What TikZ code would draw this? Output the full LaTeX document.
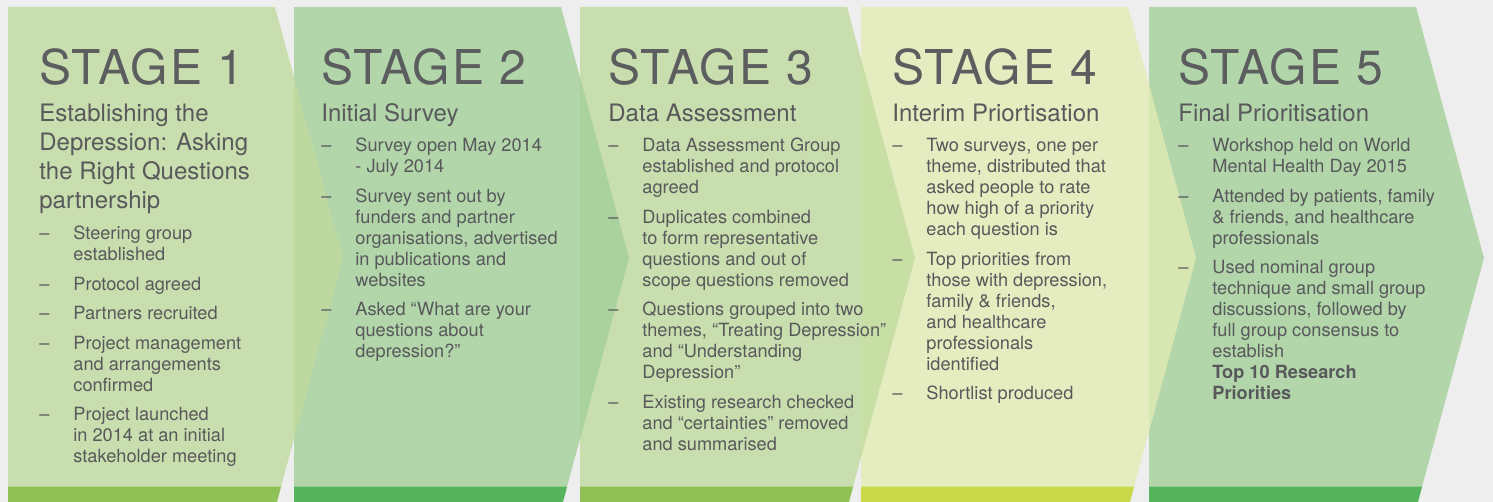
\documentclass[tikz,border=0pt]{standalone}
\usepackage{fontspec}
\setmainfont{TeX Gyre Heros}
\newfontfamily\stagefont{TeX Gyre Heros}[LetterSpace=4.0]
\definecolor{bgGray}{HTML}{EEEEEE}
\definecolor{panelA}{RGB}{192,219,158}
\definecolor{panelB}{RGB}{163,207,154}
\definecolor{panelC}{RGB}{226,236,181}
\definecolor{barA}{RGB}{143,193,86}
\definecolor{barB}{RGB}{85,180,92}
\definecolor{barC}{RGB}{200,218,74}
\definecolor{txtGray}{RGB}{88,89,91}
\definecolor{titleGray}{RGB}{92,93,95}
\begin{document}
\begin{tikzpicture}[x=0.5pt,y=0.5pt,yscale=-1,xscale=1,
  stagetitle/.style={anchor=base west,inner sep=0pt,font=\stagefont\fontsize{24}{28}\selectfont,text=titleGray},
  stagehead/.style={anchor=base west,inner sep=0pt,font=\fontsize{12}{14.5}\selectfont,text=txtGray},
  stageitems/.style={anchor=base west,inner sep=0pt,font=\fontsize{9.1}{10.5}\selectfont,text=txtGray},
  chev/.style={fill opacity=0.8}]
%set diagram left start at 0, and has height of 502
\clip (0,0) rectangle (1493,502);
\fill [bgGray] (0,0) rectangle (1493,502);

%Shape: Chevron [stage 5]
\fill [panelB, chev] (1149,7) -- (1416,7) -- (1484,258) -- (1416,509) -- (1149,509) -- cycle ;
%Shape: Chevron [stage 4]
\fill [panelC, chev] (861,7) -- (1128,7) -- (1196,258) -- (1128,509) -- (861,509) -- cycle ;
%Shape: Chevron [stage 3]
\fill [panelA, chev] (580,7) -- (847,7) -- (915,258) -- (847,509) -- (580,509) -- cycle ;
%Shape: Chevron [stage 2]
\fill [panelB, chev] (294,7) -- (561,7) -- (629,258) -- (561,509) -- (294,509) -- cycle ;
%Shape: Chevron [stage 1]
\fill [panelA, chev] (8,7) -- (275,7) -- (343,258) -- (275,509) -- (8,509) -- cycle ;

%Shape: Bottom bars
\fill [barA] (8,486.5) -- (281.1,486.5) -- (275,509) -- (8,509) -- cycle ;
\fill [barB] (294,486.5) -- (567.1,486.5) -- (561,509) -- (294,509) -- cycle ;
\fill [barA] (580,486.5) -- (853.1,486.5) -- (847,509) -- (580,509) -- cycle ;
\fill [barC] (861,486.5) -- (1134.1,486.5) -- (1128,509) -- (861,509) -- cycle ;
\fill [barB] (1149,486.5) -- (1422.1,486.5) -- (1416,509) -- (1149,509) -- cycle ;

% Text Node
\draw (39,85) node (title1) [stagetitle] {STAGE 1};
% Text Node
\draw (39,122) node (head1) [stagehead] {\begin{tabular}[t]{@{}l@{}}Establishing the\\Depression: Asking\\the Right Questions\\partnership\end{tabular}};
% Text Node
\draw (39,240) node (list1) [stageitems] {\begin{tabular}[t]{@{}p{17pt}@{}l@{}}
\textendash & Steering group\\ & established\\[4.25pt]
\textendash & Protocol agreed\\[4.25pt]
\textendash & Partners recruited\\[4.25pt]
\textendash & Project management\\ & and arrangements\\ & confirmed\\[4.25pt]
\textendash & Project launched\\ & in 2014 at an initial\\ & stakeholder meeting
\end{tabular}};

% Text Node
\draw (321,85) node (title2) [stagetitle] {STAGE 2};
% Text Node
\draw (321,122) node (head2) [stagehead] {Initial Survey};
% Text Node
\draw (321,152) node (list2) [stageitems] {\begin{tabular}[t]{@{}p{17pt}@{}l@{}}
\textendash & Survey open May 2014\\ & - July 2014\\[4.25pt]
\textendash & Survey sent out by\\ & funders and partner\\ & organisations, advertised\\ & in publications and\\ & websites\\[4.25pt]
\textendash & Asked “What are your\\ & questions about\\ & depression?”
\end{tabular}};

% Text Node
\draw (608,85) node (title3) [stagetitle] {STAGE 3};
% Text Node
\draw (608,122) node (head3) [stagehead] {Data Assessment};
% Text Node
\draw (608,152) node (list3) [stageitems] {\begin{tabular}[t]{@{}p{17pt}@{}l@{}}
\textendash & Data Assessment Group\\ & established and protocol\\ & agreed\\[4.25pt]
\textendash & Duplicates combined\\ & to form representative\\ & questions and out of\\ & scope questions removed\\[4.25pt]
\textendash & Questions grouped into two\\ & themes, “Treating Depression”\\ & and “Understanding\\ & Depression”\\[4.25pt]
\textendash & Existing research checked\\ & and “certainties” removed\\ & and summarised
\end{tabular}};

% Text Node
\draw (892,85) node (title4) [stagetitle] {STAGE 4};
% Text Node
\draw (892,122) node (head4) [stagehead] {Interim Priortisation};
% Text Node
\draw (892,152) node (list4) [stageitems] {\begin{tabular}[t]{@{}p{17pt}@{}l@{}}
\textendash & Two surveys, one per\\ & theme, distributed that\\ & asked people to rate\\ & how high of a priority\\ & each question is\\[4.25pt]
\textendash & Top priorities from\\ & those with depression,\\ & family \& friends,\\ & and healthcare\\ & professionals\\ & identified\\[4.25pt]
\textendash & Shortlist produced
\end{tabular}};

% Text Node
\draw (1178,85) node (title5) [stagetitle] {STAGE 5};
% Text Node
\draw (1178,122) node (head5) [stagehead] {Final Prioritisation};
% Text Node
\draw (1178,152) node (list5) [stageitems] {\begin{tabular}[t]{@{}p{17pt}@{}l@{}}
\textendash & Workshop held on World\\ & Mental Health Day 2015\\[4.25pt]
\textendash & Attended by patients, family\\ & \& friends, and healthcare\\ & professionals\\[4.25pt]
\textendash & Used nominal group\\ & technique and small group\\ & discussions, followed by\\ & full group consensus to\\ & establish\\ & \textbf{Top 10 Research}\\ & \textbf{Priorities}
\end{tabular}};
\end{tikzpicture}
\end{document}
